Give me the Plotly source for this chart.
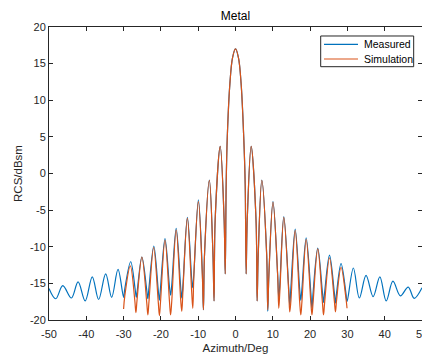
import plotly.graph_objects as go

# Measured (blue) key points: peaks, nulls and flank points
meas_x = [-50, -48.2, -46.3, -44.0, -42.2, -40.3, -38.4, -36.7, -34.8, -33.2, -31.5,
          -30.0, -29.7, -28.1, -26.9, -26.6, -26.3, -25.1, -23.8, -23.5, -23.2, -21.9,
          -20.7, -20.4, -20.1, -18.9, -17.7, -17.4, -17.1, -15.9, -14.7, -14.4, -14.1,
          -12.9, -11.75, -11.45, -11.15, -9.95, -8.9, -8.6, -8.3, -7.0, -6.05, -5.75,
          -5.45, -4.1, -3.05, -2.75,
          -2.5, -2.2, -1.5, -0.8, 0.0, 0.8, 1.5, 2.2, 2.6,
          2.85, 3.15, 4.2, 5.5, 5.8, 6.1, 7.05, 8.35, 8.65, 8.95, 10.05, 11.3, 11.6,
          11.9, 12.95, 14.25, 14.55, 14.85, 16.0, 17.2, 17.5, 17.8, 18.95, 20.2, 20.5,
          20.8, 22.05, 23.3, 23.6, 23.9, 25.2, 26.5, 26.8, 27.1, 28.3, 29.6, 29.9,
          31.6, 33.2, 35.0, 36.9, 38.7, 40.4, 42.2, 44.2, 46.3, 47.9, 50]
meas_y = [-15.7, -17.1, -15.3, -17.0, -14.8, -17.4, -14.1, -17.2, -13.7, -16.9, -13.1,
          -16.9, -15.8, -12.05, -15.8, -16.9, -15.8, -11.4, -15.9, -17.1, -15.6, -9.9,
          -16.0, -17.3, -15.6, -8.9, -15.5, -16.6, -15.3, -7.5, -15.5, -17.0, -15.3,
          -6.0, -14.3, -15.6, -13.6, -3.6, -13.3, -18.6, -11.0, -0.9, -11.0, -17.4,
          -6.3, 3.7, -6.3, -13.7,
          -1.5, 5.0, 12.3, 15.8, 17.0, 15.8, 12.3, 5.0, -1.5,
          -13.7, -6.3, 3.7, -6.3, -17.4, -11.0, -0.9, -11.0, -18.8, -13.8, -3.8, -13.8, -17.0,
          -15.0, -5.9, -15.5, -18.0, -15.6, -7.6, -15.8, -17.3, -15.8, -8.8, -16.3, -18.4,
          -16.3, -10.2, -16.2, -17.6, -16.2, -11.15, -16.3, -17.7, -16.3, -12.3, -16.3, -17.5,
          -12.9, -17.0, -13.9, -16.8, -14.1, -17.4, -14.7, -16.7, -15.5, -17.05, -15.6]

# Simulation (orange) key points
sim_x = [-30.0, -29.7, -28.2, -27.0, -26.7, -26.4, -25.1, -23.8, -23.5, -23.2, -21.95,
         -20.7, -20.4, -20.1, -18.9, -17.7, -17.4, -17.1, -15.9, -14.7, -14.4, -14.1,
         -12.9, -11.75, -11.45, -11.15, -9.95, -8.9, -8.6, -8.3, -7.0, -6.05, -5.75,
         -5.45, -4.1, -3.05, -2.75,
         -2.5, -2.2, -1.5, -0.8, 0.0, 0.8, 1.5, 2.2, 2.6,
         2.85, 3.15, 4.2, 5.5, 5.8, 6.1, 7.05, 8.35, 8.65, 8.95, 10.05, 11.3, 11.6,
         11.9, 12.95, 14.25, 14.55, 14.85, 16.0, 17.2, 17.5, 17.8, 18.95, 20.2, 20.5,
         20.8, 22.05, 23.3, 23.6, 23.9, 25.2, 26.5, 26.8, 27.1, 28.3, 29.6, 29.9]
sim_y = [-18.5, -16.8, -12.6, -17.3, -19.0, -17.3, -11.4, -17.6, -19.3, -17.5, -10.1,
         -17.6, -19.4, -17.5, -9.1, -17.5, -19.3, -17.5, -7.7, -17.2, -18.8, -16.1,
         -6.1, -16.1, -18.4, -13.8, -3.8, -13.8, -18.6, -11.0, -0.95, -11.0, -17.4,
         -6.3, 3.7, -6.3, -13.7,
         -1.5, 5.0, 12.3, 15.8, 17.0, 15.8, 12.3, 5.0, -1.5,
         -13.7, -6.3, 3.7, -6.3, -17.4, -11.0, -0.95, -11.0, -18.6, -13.9, -3.9, -13.9, -18.4,
         -16.0, -6.0, -16.0, -18.9, -17.4, -7.75, -17.5, -19.3, -17.6, -9.0, -17.6, -19.3,
         -17.6, -10.3, -17.6, -19.3, -17.6, -11.5, -17.4, -18.9, -17.3, -12.8, -17.0, -18.4]

series_names = ["Measured", "Simulation"]
series_colors = ["#0072BD", "#D95319"]

x_ticks = [-50, -40, -30, -20, -10, 0, 10, 20, 30, 40, 50]
y_ticks = [-20, -15, -10, -5, 0, 5, 10, 15, 20]

FONT = "Liberation Sans, Arial, sans-serif"
AX = "#262626"

fig = go.Figure()
fig.add_trace(go.Scatter(x=meas_x, y=meas_y, mode="lines", name=series_names[0],
                         line=dict(color=series_colors[0], width=1.2, shape="spline", smoothing=1.0)))
fig.add_trace(go.Scatter(x=sim_x, y=sim_y, mode="lines", name=series_names[1],
                         line=dict(color=series_colors[1], width=1.2, shape="spline", smoothing=1.0)))

# MATLAB-style compact legend box (drawn with paper-referenced shapes and real text)
leg_x0, leg_x1, leg_y0, leg_y1 = 0.7284, 0.9777, 0.8645, 0.9693
leg_rows = [0.9410, 0.8908]
shapes = [dict(type="rect", xref="paper", yref="paper", x0=leg_x0, x1=leg_x1,
               y0=leg_y0, y1=leg_y1, line=dict(color=AX, width=1), fillcolor="white",
               layer="above")]
annotations = []
for name, col, ry in zip(series_names, series_colors, leg_rows):
    shapes.append(dict(type="line", xref="paper", yref="paper", x0=0.7373, x1=0.8284,
                       y0=ry, y1=ry, line=dict(color=col, width=1.2), layer="above"))
    annotations.append(dict(text=name, xref="paper", yref="paper", x=0.8383, y=ry,
                            xanchor="left", yanchor="middle", showarrow=False,
                            font=dict(family=FONT, size=10.5, color="#000000")))

fig.update_layout(
    width=422, height=354,
    margin=dict(l=49, r=0, t=27, b=34, autoexpand=False),
    paper_bgcolor="white", plot_bgcolor="white",
    font=dict(family=FONT, size=11, color=AX),
    title=dict(text="Metal", x=0.5, xref="paper", xanchor="center",
               y=0.955, yref="container", yanchor="middle",
               font=dict(family=FONT, size=12, color="#000000")),
    showlegend=False,
    shapes=shapes,
    annotations=annotations,
)
fig.update_xaxes(range=[-50, 50], tickvals=x_ticks, ticktext=[str(v) for v in x_ticks],
                 ticks="inside", ticklen=4, tickcolor=AX, showline=True, linecolor=AX,
                 linewidth=1, mirror="ticks", showgrid=False, zeroline=False,
                 automargin=False, ticklabeloverflow="allow", ticklabelstandoff=4,
                 tickfont=dict(family=FONT, size=11, color=AX),
                 title=dict(text="Azimuth/Deg", standoff=4,
                            font=dict(family=FONT, size=11.5, color=AX)))
fig.update_yaxes(range=[-20, 20], tickvals=y_ticks, ticktext=[str(v) for v in y_ticks],
                 ticks="inside", ticklen=4, tickcolor=AX, showline=True, linecolor=AX,
                 linewidth=1, mirror="ticks", showgrid=False, zeroline=False,
                 automargin=False,
                 tickfont=dict(family=FONT, size=11, color=AX),
                 title=dict(text="RCS/dBsm", standoff=4,
                            font=dict(family=FONT, size=11.5, color=AX)))

fig.write_html("out.html", config={"displayModeBar": False},
               post_script="document.body.style.margin='0';document.body.style.overflow='hidden';")
